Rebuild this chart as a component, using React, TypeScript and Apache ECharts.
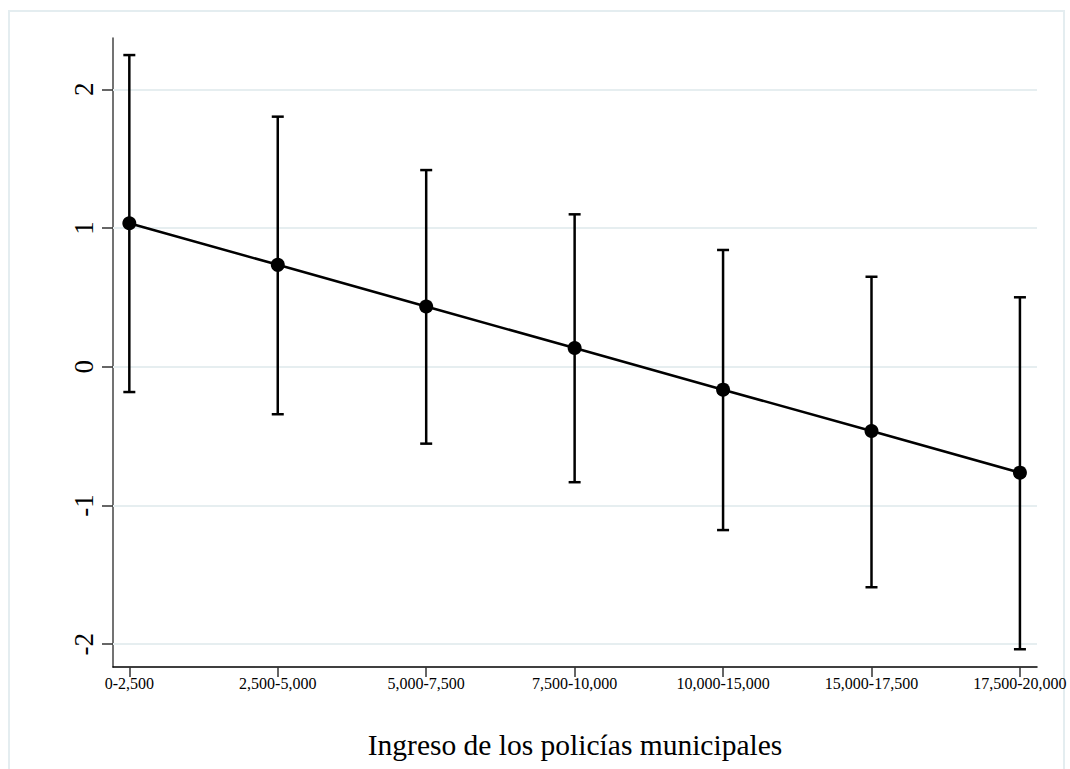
import React, { useEffect, useRef } from "react";
import * as echarts from "echarts";

const categories = ["0-2,500", "2,500-5,000", "5,000-7,500", "7,500-10,000", "10,000-15,000", "15,000-17,500", "17,500-20,000"];
const estimates = [1.035, 0.735, 0.435, 0.135, -0.165, -0.463, -0.763];
const upper = [2.247, 1.803, 1.418, 1.099, 0.842, 0.649, 0.501];
const lower = [-0.182, -0.342, -0.554, -0.832, -1.177, -1.589, -2.036];
const yTicks = [-2, -1, 0, 1, 2];
const xTicks = [0, 1, 2, 3, 4, 5, 6];

const FONT = "'Liberation Serif', 'Times New Roman', serif";

export default function App() {
  const ref = useRef<HTMLDivElement>(null);
  useEffect(() => {
    if (!ref.current) return;
    const chart = echarts.init(ref.current, undefined, { renderer: "svg" });
    const errData = categories.map((_, i) => [i, lower[i], upper[i]]);
    chart.setOption({
      animation: false,
      backgroundColor: "#ffffff",
      grid: { left: 113, right: 33, top: 38, bottom: 102, containLabel: false },
      graphic: [
        {
          type: "rect",
          shape: { x: 9, y: 11, width: 1055, height: 800 },
          style: { fill: "none", stroke: "#e4edf0", lineWidth: 2 },
          silent: true,
          z: 0,
        },
      ],
      xAxis: {
        type: "value",
        min: -0.11,
        max: 6.115,
        name: "Ingreso de los policías municipales",
        nameLocation: "middle",
        nameGap: 63,
        nameTextStyle: { fontFamily: FONT, fontSize: 29.5, color: "#000" },
        axisLine: { show: true, onZero: false, lineStyle: { color: "#000", width: 1.5 } },
        axisTick: { show: true, length: 10, customValues: xTicks, lineStyle: { color: "#333", width: 1.5 } },
        axisLabel: {
          customValues: xTicks,
          formatter: (v: number) => categories[Math.round(v)] ?? "",
          fontFamily: FONT,
          fontSize: 16,
          color: "#000",
          margin: 8,
        },
        splitLine: { show: false },
      },
      yAxis: {
        type: "value",
        min: -2.164,
        max: 2.37,
        axisLine: { show: true, onZero: false, lineStyle: { color: "#444", width: 1.5 } },
        axisTick: { show: true, length: 11, customValues: yTicks, lineStyle: { color: "#333", width: 1.5 } },
        axisLabel: {
          customValues: yTicks,
          rotate: 90,
          fontFamily: FONT,
          fontSize: 27,
          color: "#000",
          margin: 16,
          formatter: (v: number) => String(v),
        },
        splitLine: { show: false },
      },
      series: [
        {
          type: "line",
          data: [],
          z: 1,
          silent: true,
          markLine: {
            silent: true,
            z: 1,
            symbol: "none",
            label: { show: false },
            lineStyle: { color: "#e6eef0", width: 2, type: "solid" },
            data: yTicks.map((v) => ({ yAxis: v })),
          },
        },
        {
          type: "custom",
          z: 3,
          data: errData,
          renderItem: (params: any, api: any) => {
            const x = api.value(0);
            const lo = api.coord([x, api.value(1)]);
            const hi = api.coord([x, api.value(2)]);
            const cap = 6;
            const style = { stroke: "#000", lineWidth: 2.5 };
            return {
              type: "group",
              children: [
                { type: "line", shape: { x1: hi[0], y1: hi[1], x2: lo[0], y2: lo[1] }, style },
                { type: "line", shape: { x1: hi[0] - cap, y1: hi[1], x2: hi[0] + cap, y2: hi[1] }, style },
                { type: "line", shape: { x1: lo[0] - cap, y1: lo[1], x2: lo[0] + cap, y2: lo[1] }, style },
              ],
            };
          },
        },
        {
          type: "line",
          z: 4,
          data: estimates.map((v, i) => [i, v]),
          symbol: "circle",
          symbolSize: 14,
          itemStyle: { color: "#000" },
          lineStyle: { color: "#000", width: 2.5 },
        },
      ],
    });
    return () => chart.dispose();
  }, []);
  return (
    <div
      ref={ref}
      style={{ position: "fixed", left: 0, top: 0, width: 1070, height: 769 }}
    />
  );
}
